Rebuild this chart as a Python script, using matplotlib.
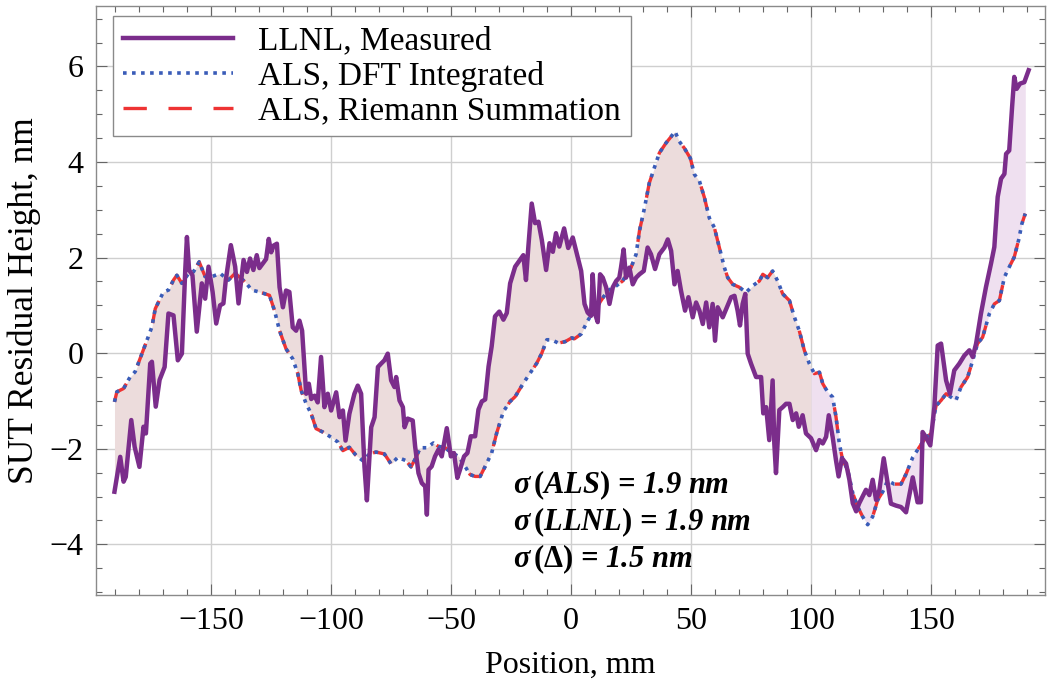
#!/usr/bin/env python3
# SUT residual height: LLNL measurement vs. ALS reconstructions

import numpy as np
import matplotlib
matplotlib.use('Agg')
import matplotlib.pyplot as plt
from matplotlib.ticker import MultipleLocator

# LLNL, measured (position mm, height nm)
LLNL_X = [-190.3, -187.9, -186.5, -185.6, -183.3, -181.9, -179.9, -178.2, -177.2, -175.4,
          -174.7, -173.1, -171.5, -169.4, -167.8, -165.7, -163.9, -162.2, -160.8, -160.1,
          -159.2, -157.8, -156.0, -153.9, -152.5, -151.1, -149.4, -147.9, -146.3, -144.9,
          -143.9, -141.8, -140.0, -138.6, -136.5, -135.1, -133.8, -132.4, -131.0, -129.9,
          -127.1, -126.0, -125.0, -124.0, -122.6, -121.5, -120.1, -118.8, -117.4, -116.0,
          -114.6, -113.2, -112.1, -110.4, -109.3, -108.3, -106.9, -105.6, -104.2, -102.8,
          -101.4, -100.0, -97.9, -96.5, -95.1, -94.0, -92.4, -90.3, -88.9, -87.5,
          -86.1, -85.1, -83.3, -81.9, -80.5, -79.2, -77.8, -76.4, -75.0, -73.6,
          -72.9, -71.5, -70.1, -69.4, -68.1, -66.0, -65.0, -63.6, -62.2, -60.8,
          -60.1, -59.4, -58.1, -56.7, -55.3, -53.9, -51.8, -50.1, -48.8, -47.4,
          -46.3, -44.6, -43.2, -41.8, -40.0, -38.6, -37.2, -35.8, -34.4, -33.1,
          -31.7, -29.9, -28.2, -26.8, -25.4, -23.3, -21.3, -19.9, -18.8, -17.8,
          -16.4, -15.0, -13.6, -12.2, -10.4, -9.0, -7.6, -6.3, -4.9, -2.9,
          -1.2, 0.7, 2.1, 4.2, 5.6, 6.9, 8.3, 9.0, 10.0, 11.1,
          12.1, 13.2, 14.6, 16.0, 17.4, 18.8, 20.1, 20.8, 21.9, 22.9,
          24.3, 25.7, 27.1, 28.5, 30.3, 31.9, 33.3, 35.0, 36.8, 38.9,
          40.3, 41.7, 43.1, 44.4, 45.8, 47.5, 48.9, 50.7, 52.1, 53.5,
          54.9, 56.3, 57.6, 59.0, 60.0, 61.1, 63.2, 64.6, 66.7, 68.1,
          69.4, 70.4, 71.5, 72.6, 73.6, 75.0, 77.1, 79.2, 80.1, 81.3,
          82.6, 84.0, 84.7, 85.4, 86.8, 88.2, 89.6, 91.0, 92.4, 93.8,
          94.9, 96.5, 97.9, 100.0, 102.1, 103.5, 104.9, 106.3, 107.4, 109.0,
          110.4, 111.5, 112.9, 114.6, 116.0, 117.4, 118.8, 120.1, 121.5, 122.9,
          124.3, 125.7, 127.1, 128.5, 130.3, 133.3, 135.4, 137.5, 139.6, 142.4,
          144.4, 145.8, 146.5, 147.9, 149.7, 151.4, 152.8, 154.2, 156.3, 157.9,
          159.7, 161.8, 163.9, 166.0, 167.4, 168.8, 170.8, 172.9, 175.0, 176.4,
          177.8, 179.2, 180.6, 181.3, 182.6, 183.8, 184.7, 185.7, 187.1, 188.9,
          190.7]
LLNL_Y = [-2.90, -2.17, -2.69, -2.59, -1.40, -1.96, -2.38, -1.54, -1.68, -0.22,
          -0.18, -1.12, -0.56, -0.29, 0.83, 0.79, -0.15, -0.01, 1.74, 2.43,
          1.74, 1.63, 0.45, 1.46, 1.14, 1.81, 1.28, 0.62, 1.00, 1.04,
          1.53, 2.26, 1.81, 1.04, 1.95, 1.70, 1.98, 1.74, 2.05, 1.78,
          1.97, 2.39, 2.11, 2.25, 2.29, 1.38, 0.96, 1.31, 1.28, 0.54,
          0.47, 0.68, 0.47, -0.85, -0.64, -0.96, -0.89, -1.03, -0.08, -1.13,
          -0.85, -1.20, -0.82, -1.34, -1.20, -1.83, -1.27, -0.85, -0.68, -0.85,
          -2.38, -3.08, -1.55, -1.34, -0.29, -0.22, -0.15, -0.01, -0.57, -0.71,
          -0.50, -0.99, -1.13, -1.55, -1.37, -1.41, -1.95, -2.51, -2.72, -2.79,
          -3.38, -2.44, -2.37, -2.16, -2.02, -2.16, -1.57, -2.16, -2.09, -2.61,
          -2.44, -2.16, -2.09, -1.74, -1.74, -1.18, -1.01, -0.97, -0.28, 0.14,
          0.77, 0.87, 0.70, 0.84, 1.46, 1.81, 1.95, 2.05, 1.53, 2.23,
          3.13, 2.72, 2.75, 2.37, 1.74, 2.30, 2.12, 2.51, 2.23, 2.61,
          2.20, 2.42, 2.14, 1.72, 1.03, 0.85, 0.78, 1.65, 0.82, 0.65,
          1.65, 1.58, 1.38, 1.03, 1.38, 1.51, 1.58, 1.79, 2.17, 1.58,
          1.79, 1.44, 1.58, 1.65, 1.72, 2.21, 2.07, 1.76, 2.07, 2.21,
          2.38, 2.14, 1.44, 1.72, 1.31, 0.89, 1.17, 0.75, 1.06, 0.89,
          0.61, 1.06, 0.54, 1.03, 0.26, 0.96, 0.75, 0.92, 1.17, 1.20,
          0.89, 0.58, 1.03, 1.24, -0.01, -0.22, -0.50, -0.50, -1.26, -1.13,
          -1.82, -0.57, -1.89, -2.51, -1.19, -1.13, -1.06, -1.06, -1.40, -1.26,
          -1.54, -1.30, -1.68, -1.78, -2.03, -1.82, -1.89, -1.75, -1.30, -1.75,
          -2.24, -2.58, -2.20, -2.31, -2.65, -3.14, -3.31, -3.14, -3.00, -2.86,
          -2.97, -2.65, -3.07, -2.86, -2.20, -3.15, -3.19, -3.22, -3.33, -2.60,
          -3.12, -3.12, -1.65, -1.76, -1.93, -1.13, 0.16, 0.20, -0.57, -0.85,
          -0.36, -0.22, -0.05, 0.06, -0.08, 0.20, 0.82, 1.38, 1.87, 2.22,
          3.27, 3.65, 3.75, 4.17, 4.24, 5.15, 5.78, 5.53, 5.64, 5.67,
          5.92]

# ALS, DFT integrated
ALS_X = [-190.3, -189.3, -186.5, -183.8, -181.7, -179.6, -177.5, -174.7, -173.3, -169.9,
         -167.8, -165.7, -164.3, -162.2, -159.4, -157.4, -155.0, -152.5, -149.7, -146.3,
         -142.8, -140.0, -135.8, -133.1, -129.9, -125.7, -123.6, -121.5, -118.8, -116.0,
         -113.9, -112.5, -110.4, -108.3, -106.3, -103.5, -100.0, -97.2, -95.1, -92.4,
         -89.6, -86.8, -84.0, -81.3, -77.8, -75.0, -72.2, -68.8, -66.7, -64.6,
         -62.9, -60.1, -57.4, -55.3, -52.5, -49.7, -46.9, -44.2, -42.1, -40.0,
         -37.9, -35.8, -33.1, -31.0, -28.2, -25.4, -23.3, -19.9, -17.1, -14.3,
         -12.2, -10.1, -8.1, -5.3, -2.5, 0.3, 1.4, 4.2, 6.9, 9.7,
         12.5, 15.3, 18.1, 21.5, 25.0, 27.1, 28.5, 30.6, 32.6, 34.7,
         36.8, 39.6, 41.7, 43.3, 45.1, 47.2, 49.7, 51.4, 53.5, 55.6,
         57.6, 59.7, 61.8, 63.9, 65.3, 67.4, 70.1, 72.9, 75.7, 78.5,
         79.9, 81.9, 84.0, 86.1, 88.2, 91.0, 93.1, 95.1, 97.2, 99.3,
         101.4, 103.5, 104.9, 106.9, 109.0, 110.4, 111.8, 113.2, 115.3, 117.4,
         119.4, 121.5, 123.6, 125.7, 127.8, 129.9, 131.9, 134.7, 137.5, 139.6,
         142.4, 145.1, 147.9, 150.0, 152.1, 154.2, 156.3, 158.3, 160.4, 162.5,
         165.3, 167.4, 169.4, 171.5, 174.3, 176.4, 178.5, 180.6, 182.6, 184.7,
         186.5, 187.9, 189.3]
ALS_Y = [-1.02, -0.81, -0.74, -0.50, -0.39, -0.11, 0.17, 0.55, 0.93, 1.28,
         1.32, 1.53, 1.63, 1.46, 1.67, 1.70, 1.91, 1.60, 1.60, 1.67,
         1.53, 1.67, 1.49, 1.32, 1.28, 1.21, 0.89, 0.47, 0.09, -0.12,
         -0.43, -0.78, -1.06, -1.27, -1.58, -1.65, -1.76, -1.86, -2.04, -1.97,
         -2.14, -2.25, -2.11, -2.07, -2.11, -2.32, -2.18, -2.25, -2.38, -2.18,
         -1.98, -1.98, -1.88, -1.95, -1.98, -2.09, -2.16, -2.37, -2.54, -2.58,
         -2.58, -2.37, -2.09, -1.67, -1.22, -1.01, -0.91, -0.63, -0.42, -0.21,
         0.00, 0.28, 0.28, 0.21, 0.24, 0.32, 0.30, 0.40, 0.68, 0.89,
         1.10, 1.31, 1.38, 1.51, 1.79, 2.07, 2.56, 3.04, 3.56, 3.88,
         4.19, 4.40, 4.53, 4.64, 4.43, 4.29, 4.08, 3.74, 3.60, 3.25,
         2.83, 2.63, 2.21, 1.79, 1.58, 1.44, 1.38, 1.27, 1.41, 1.51,
         1.65, 1.58, 1.72, 1.51, 1.24, 1.10, 0.75, 0.47, 0.06, -0.22,
         -0.43, -0.40, -0.64, -0.81, -0.92, -1.33, -1.89, -2.24, -2.44, -2.93,
         -3.21, -3.42, -3.59, -3.42, -3.07, -2.90, -2.67, -2.74, -2.74, -2.53,
         -2.18, -1.97, -1.76, -1.69, -1.10, -0.99, -0.85, -0.92, -0.99, -0.71,
         -0.50, -0.15, 0.20, 0.33, 0.82, 1.03, 1.10, 1.59, 1.80, 2.01,
         2.36, 2.71, 2.92]

# ALS, Riemann summation: same readings, it lies on top of the DFT curve
RIEMANN_Y = list(ALS_Y)

STATS = [r'$\sigma\,(ALS)$ = 1.9 nm',
         r'$\sigma\,(LLNL)$ = 1.9 nm',
         r'$\sigma\,(\Delta)$ = 1.5 nm']

PURPLE = '#7b2d8b'
BLUE = '#3a5cb8'
RED = '#ee3333'


def main():
    plt.rcParams['font.family'] = ['Liberation Serif', 'DejaVu Serif']
    plt.rcParams['mathtext.fontset'] = 'custom'
    plt.rcParams['mathtext.it'] = 'Liberation Serif:italic:bold'
    plt.rcParams['mathtext.rm'] = 'Liberation Serif:bold'
    plt.rcParams['mathtext.bf'] = 'Liberation Serif:bold'

    fig = plt.figure(figsize=(10.48, 6.89), dpi=100)
    ax = fig.add_axes([0.0916, 0.1365, 0.9055, 0.8545])

    lx, ly = np.array(LLNL_X), np.array(LLNL_Y)
    ax_, ay = np.array(ALS_X), np.array(ALS_Y)

    # shaded difference between the two measurements
    grid = np.union1d(lx, ax_)
    grid = grid[(grid >= max(lx[0], ax_[0])) & (grid <= min(lx[-1], ax_[-1]))]
    grid = np.union1d(grid, [100.0])
    gl = np.interp(grid, lx, ly)
    ga = np.interp(grid, ax_, ay)
    ax.fill_between(grid, gl, ga, where=grid <= 100, color='#ecdcdc',
                    lw=0, zorder=1, interpolate=True)
    ax.fill_between(grid, gl, ga, where=grid >= 100, color='#efe0f0',
                    lw=0, zorder=1, interpolate=True)

    ax.plot(ax_, RIEMANN_Y, color=RED, lw=2.4, ls=(0, (7, 6.5)), zorder=3,
            label='ALS, Riemann Summation')
    ax.plot(ax_, ay, color=BLUE, lw=2.6, ls=(0, (1, 1.5)), zorder=4,
            label='ALS, DFT Integrated')
    ax.plot(lx, ly, color=PURPLE, lw=3.2, zorder=5, label='LLNL, Measured')

    ax.set_xlim(-198, 197.5)
    ax.set_ylim(-5.06, 7.26)
    ax.xaxis.set_major_locator(MultipleLocator(50))
    ax.xaxis.set_minor_locator(MultipleLocator(10))
    ax.yaxis.set_major_locator(MultipleLocator(2))
    ax.yaxis.set_minor_locator(MultipleLocator(0.5))
    ax.tick_params(which='both', direction='in', top=True, right=True,
                   color='#666666', labelsize=23, width=0.8)
    ax.tick_params(which='major', length=8, pad=9)
    ax.tick_params(which='minor', length=4)
    ax.grid(True, which='major', color='#cfcfcf', lw=1.0)
    ax.set_axisbelow(True)
    for s in ax.spines.values():
        s.set_color('#8a8a8a')
        s.set_linewidth(1.0)

    ax.set_xlabel('Position, mm', fontsize=23, labelpad=10)
    ax.set_ylabel('SUT Residual Height, nm', fontsize=25.5, labelpad=6)

    h, l = ax.get_legend_handles_labels()
    order = [2, 1, 0]
    leg = ax.legend([h[i] for i in order], [l[i] for i in order],
                    loc='upper left', bbox_to_anchor=(0.018, 0.983),
                    borderaxespad=0, fontsize=24, handlelength=3.3,
                    handletextpad=0.75, labelspacing=0.12, borderpad=0.3,
                    fancybox=False, framealpha=1, edgecolor='#8a8a8a')
    leg.get_frame().set_linewidth(1.0)

    for i, s in enumerate(STATS):
        ax.text(0.439, 0.187 - i * 0.063, s, transform=ax.transAxes,
                fontsize=22, fontweight='bold', fontstyle='italic',
                va='center', ha='left', zorder=6)

    fig.savefig('out.png', dpi=100)


if __name__ == '__main__':
    main()
